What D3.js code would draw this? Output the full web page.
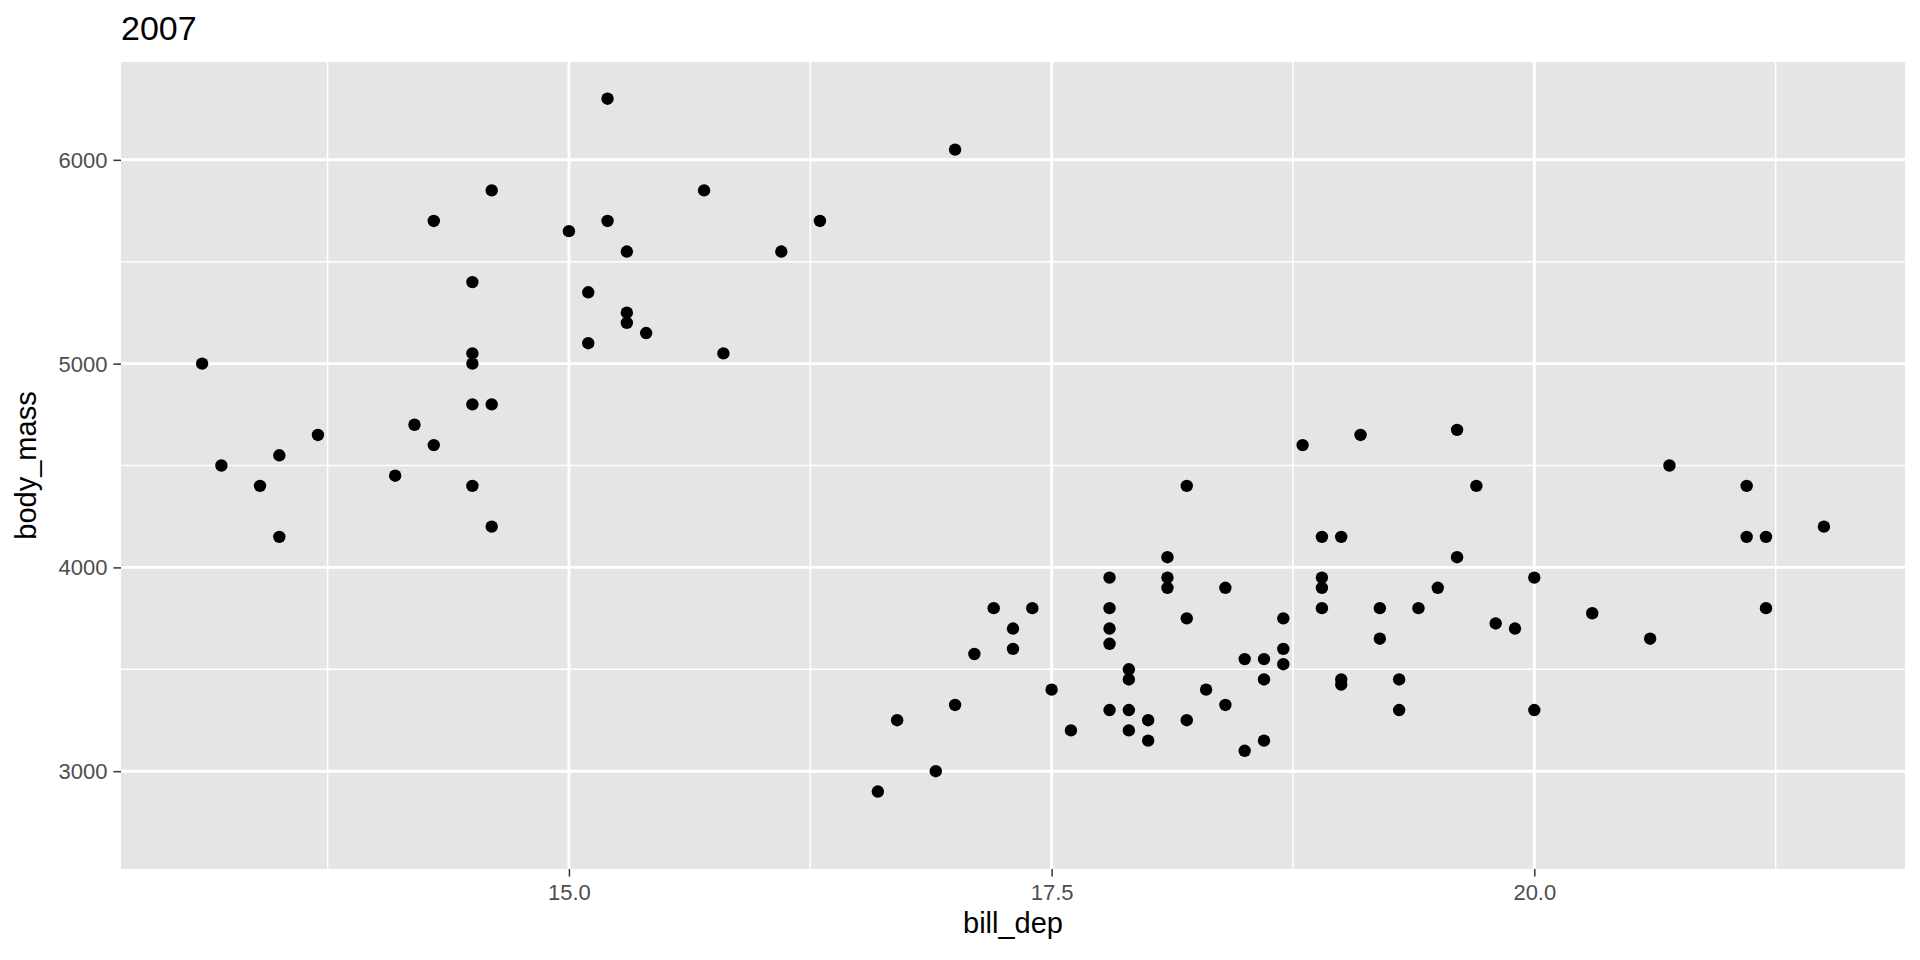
<!DOCTYPE html>
<html>
<head>
<meta charset="utf-8">
<script src="https://cdn.jsdelivr.net/npm/d3@7"></script>
<style>
  body { margin: 0; background: #fff; }
  text { font-family: "Liberation Sans", Arial, sans-serif; }
</style>
</head>
<body>
<div id="chart"></div>
<script>
(function() {
  var width = 1920, height = 960;
  var margin = { top: 62, left: 121, right: 15, bottom: 91 };
  var plotW = width - margin.left - margin.right,
      plotH = height - margin.top - margin.bottom;

  // values (year 2007)
  var billDepth = [
    13.1, 13.2, 13.4, 13.5, 13.5, 13.7, 14.1, 14.2, 14.3, 14.3,
    14.5, 14.5, 14.5, 14.5, 14.5, 14.6, 14.6, 14.6, 15.0, 15.1,
    15.1, 15.2, 15.2, 15.3, 15.3, 15.3, 15.4, 15.7, 15.8, 16.1,
    16.3,
    16.6, 16.7, 16.9, 17.0, 17.0, 17.1, 17.2, 17.3, 17.3, 17.4,
    17.5, 17.6, 17.8, 17.8, 17.8, 17.8, 17.8, 17.9, 17.9, 17.9,
    17.9, 18.0, 18.0, 18.1, 18.1, 18.1, 18.2, 18.2, 18.2, 18.3,
    18.4, 18.4, 18.5, 18.5, 18.6, 18.6, 18.6, 18.7, 18.7, 18.7,
    18.8, 18.9, 18.9, 18.9, 18.9, 19.0, 19.0, 19.0, 19.1, 19.2,
    19.2, 19.3, 19.3, 19.4, 19.5, 19.6, 19.6, 19.7, 19.8, 19.9,
    20.0, 20.0, 20.3, 20.6, 20.7, 21.1, 21.1, 21.2, 21.2, 21.5
  ];
  var bodyMass = [
    5000, 4500, 4400, 4550, 4150, 4650, 4450, 4700, 5700, 4600,
    5400, 5050, 5000, 4800, 4400, 5850, 4800, 4200, 5650, 5350,
    5100, 6300, 5700, 5550, 5250, 5200, 5150, 5850, 5050, 5550,
    5700,
    2900, 3250, 3000, 6050, 3325, 3575, 3800, 3700, 3600, 3800,
    3400, 3200, 3950, 3800, 3700, 3625, 3300, 3500, 3450, 3300,
    3200, 3250, 3150, 4050, 3950, 3900, 4400, 3750, 3250, 3400,
    3900, 3325, 3550, 3100, 3550, 3450, 3150, 3750, 3600, 3525,
    4600, 4150, 3950, 3900, 3800, 4150, 3450, 3425, 4650, 3800,
    3650, 3450, 3300, 3800, 3900, 4675, 4050, 4400, 3725, 3700,
    3950, 3300, 3775, 3650, 4500, 4400, 4150, 4150, 3800, 4200
  ];

  // axis limits (full data range across years) and ticks
  var xLimits = [13.1, 21.5];
  var yLimits = [2700, 6300];
  var xMajor = [15.0, 17.5, 20.0];
  var xMinor = [13.75, 16.25, 18.75, 21.25];
  var yMajor = [3000, 4000, 5000, 6000];
  var yMinor = [3500, 4500, 5500];

  var datapoints = billDepth.map(function(d, i) {
    return { bill_dep: d, body_mass: bodyMass[i] };
  });

  var xPad = (xLimits[1] - xLimits[0]) * 0.05,
      yPad = (yLimits[1] - yLimits[0]) * 0.05;

  var xPositionScale = d3.scaleLinear()
    .domain([xLimits[0] - xPad, xLimits[1] + xPad])
    .range([0, plotW]);
  var yPositionScale = d3.scaleLinear()
    .domain([yLimits[0] - yPad, yLimits[1] + yPad])
    .range([plotH, 0]);

  var svg = d3.select("#chart")
    .append("svg")
    .attr("width", width)
    .attr("height", height);

  // title
  svg.append("text")
    .attr("x", margin.left)
    .attr("y", 40)
    .style("font-size", "34px")
    .style("fill", "#000")
    .text("2007");

  var g = svg.append("g")
    .attr("transform", "translate(" + margin.left + "," + margin.top + ")");

  // panel background
  g.append("rect")
    .attr("width", plotW)
    .attr("height", plotH)
    .attr("fill", "#E5E5E5");

  // minor grid
  g.selectAll(".x-minor").data(xMinor).enter().append("line")
    .attr("x1", function(d) { return xPositionScale(d) })
    .attr("x2", function(d) { return xPositionScale(d) })
    .attr("y1", 0).attr("y2", plotH)
    .attr("stroke", "#fff").attr("stroke-width", 1.5);
  g.selectAll(".y-minor").data(yMinor).enter().append("line")
    .attr("y1", function(d) { return yPositionScale(d) })
    .attr("y2", function(d) { return yPositionScale(d) })
    .attr("x1", 0).attr("x2", plotW)
    .attr("stroke", "#fff").attr("stroke-width", 1.5);

  // major grid
  g.selectAll(".x-major").data(xMajor).enter().append("line")
    .attr("x1", function(d) { return xPositionScale(d) })
    .attr("x2", function(d) { return xPositionScale(d) })
    .attr("y1", 0).attr("y2", plotH)
    .attr("stroke", "#fff").attr("stroke-width", 2.9);
  g.selectAll(".y-major").data(yMajor).enter().append("line")
    .attr("y1", function(d) { return yPositionScale(d) })
    .attr("y2", function(d) { return yPositionScale(d) })
    .attr("x1", 0).attr("x2", plotW)
    .attr("stroke", "#fff").attr("stroke-width", 2.9);

  // points
  g.selectAll("circle")
    .data(datapoints)
    .enter().append("circle")
    .attr("cx", function(d) { return xPositionScale(d.bill_dep) })
    .attr("cy", function(d) { return yPositionScale(d.body_mass) })
    .attr("r", 6.2)
    .attr("fill", "#000");

  // axes
  var xAxis = d3.axisBottom(xPositionScale)
    .tickValues(xMajor)
    .tickFormat(d3.format(".1f"))
    .tickSize(7.6)
    .tickPadding(6);
  var xg = g.append("g")
    .attr("class", "axis x-axis")
    .attr("transform", "translate(0," + plotH + ")")
    .call(xAxis);

  var yAxis = d3.axisLeft(yPositionScale)
    .tickValues(yMajor)
    .tickFormat(d3.format("d"))
    .tickSize(7.6)
    .tickPadding(6);
  var yg = g.append("g")
    .attr("class", "axis y-axis")
    .call(yAxis);

  [xg, yg].forEach(function(ax) {
    ax.select(".domain").remove();
    ax.selectAll(".tick line").attr("stroke", "#333333").attr("stroke-width", 1.5);
    ax.selectAll(".tick text")
      .attr("fill", "#4D4D4D")
      .style("font-family", "'Liberation Sans', Arial, sans-serif")
      .style("font-size", "22px");
  });
  xg.selectAll(".tick text").attr("dy", null).attr("y", 7.6 + 6 + 17);
  yg.selectAll(".tick text").attr("dy", "0.34em");

  // axis titles
  svg.append("text")
    .attr("x", margin.left + plotW / 2)
    .attr("y", 933)
    .attr("text-anchor", "middle")
    .style("font-size", "29px")
    .style("fill", "#000")
    .text("bill_dep");

  svg.append("text")
    .attr("transform", "translate(36," + (margin.top + plotH / 2) + ") rotate(-90)")
    .attr("text-anchor", "middle")
    .style("font-size", "29px")
    .style("fill", "#000")
    .text("body_mass");
})();
</script>
</body>
</html>
